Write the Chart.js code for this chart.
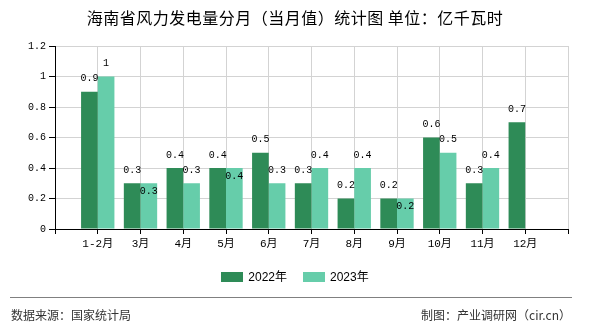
<!DOCTYPE html>
<html>
<head>
<meta charset="utf-8">
<script src="https://cdn.jsdelivr.net/npm/chart.js@4/dist/chart.umd.min.js"></script>
<style>
  html, body { margin: 0; padding: 0; background: #fff; }
  #wrap { position: relative; width: 590px; height: 330px; overflow: hidden; font-family: 'Noto Sans CJK SC', sans-serif; }
  #chart { position: absolute; left: 0; top: 0; }
  .title { position: absolute; left: 0; width: 590px; top: 6px; text-align: center; font-size: 16px; letter-spacing: 0.5px; color: #000; line-height: 22px; }
  .legend { position: absolute; top: 268px; left: 0; width: 590px; display: flex; justify-content: center; font-family: 'Liberation Sans', 'Noto Sans CJK SC', sans-serif; font-size: 12px; color: #000; line-height: 18px; }
  .legend span.item { display: flex; align-items: center; margin: 0 8px; }
  .legend i { display: inline-block; width: 22px; height: 10px; margin-right: 5px; }
  .rule { position: absolute; left: 10px; width: 562px; top: 297px; height: 0; border-top: 1px solid #808080; }
  .foot { position: absolute; top: 306px; font-size: 12px; color: #333; line-height: 18px; }
</style>
</head>
<body>
<div id="wrap">
  <canvas id="chart" width="590" height="330"></canvas>
  <div class="title">海南省风力发电量分月（当月值）统计图 单位：亿千瓦时</div>
  <div class="legend" id="legend"></div>
  <div class="rule"></div>
  <div class="foot" style="left:11px">数据来源：国家统计局</div>
  <div class="foot" style="right:19px">制图：产业调研网（cir.cn）</div>
</div>
<script>
// ── data ──
const months = ['1-2月', '3月', '4月', '5月', '6月', '7月', '8月', '9月', '10月', '11月', '12月'];
const y2022 = [0.9, 0.3, 0.4, 0.4, 0.5, 0.3, 0.2, 0.2, 0.6, 0.3, 0.7];
const y2023 = [1, 0.3, 0.3, 0.4, 0.3, 0.4, 0.4, 0.2, 0.5, 0.4, null];
const seriesNames = ['2022年', '2023年'];
const colors = ['#2e8b57', '#66cdaa'];

// empty slot before and after the months, the axis runs one slot past each end
const labels = [''].concat(months, ['']);
const pad = arr => [null].concat(arr, [null]);

const monoFont = "'Liberation Mono', 'Noto Sans CJK SC', monospace";

// value labels above bars; second series drops below when the pair is equal
const valueLabels = {
  id: 'valueLabels',
  afterDatasetsDraw(chart) {
    const ctx = chart.ctx;
    ctx.save();
    ctx.font = '10px ' + monoFont;
    ctx.fillStyle = '#000';
    ctx.textAlign = 'center';
    ctx.textBaseline = 'middle';
    chart.data.datasets.forEach((ds, di) => {
      const meta = chart.getDatasetMeta(di);
      meta.data.forEach((bar, i) => {
        const v = ds.data[i];
        if (v == null) return;
        let y = bar.y - 13;
        if (di === 1 && chart.data.datasets[0].data[i] === v) y += 21;
        ctx.fillText(String(v), bar.x, y);
      });
    });
    ctx.restore();
  }
};

new Chart(document.getElementById('chart'), {
  type: 'bar',
  data: {
    labels: labels,
    datasets: [
      { label: seriesNames[0], data: pad(y2022), backgroundColor: colors[0] },
      { label: seriesNames[1], data: pad(y2023), backgroundColor: colors[1] },
    ],
  },
  options: {
    responsive: false,
    animation: false,
    devicePixelRatio: 1,
    layout: { padding: { left: 0, right: 22, top: 46, bottom: 76 } },
    categoryPercentage: 0.78,
    barPercentage: 1,
    plugins: { legend: { display: false }, tooltip: { enabled: false } },
    scales: {
      x: {
        offset: false,
        afterFit: s => { s.height = 25; },
        grid: { offset: false, color: '#d3d3d3', tickColor: '#000', tickLength: 5, lineWidth: 1 },
        border: { color: '#000', width: 1 },
        ticks: { color: '#000', font: { family: monoFont, size: 11 }, padding: 3, maxRotation: 0, autoSkip: false },
      },
      y: {
        min: 0, max: 1.2,
        afterFit: s => { s.width = 55; },
        grid: { color: '#d3d3d3', tickColor: '#000', tickLength: 6 },
        border: { color: '#000', width: 1 },
        ticks: { stepSize: 0.2, color: '#000', font: { family: monoFont, size: 10 }, padding: 3,
                 callback: v => +v.toFixed(1) + '' },
      },
    },
  },
  plugins: [valueLabels],
});

// html legend
const lg = document.getElementById('legend');
seriesNames.forEach((n, i) => {
  const s = document.createElement('span');
  s.className = 'item';
  s.innerHTML = '<i style="background:' + colors[i] + '"></i>' + n;
  lg.appendChild(s);
});
</script>
</body>
</html>
